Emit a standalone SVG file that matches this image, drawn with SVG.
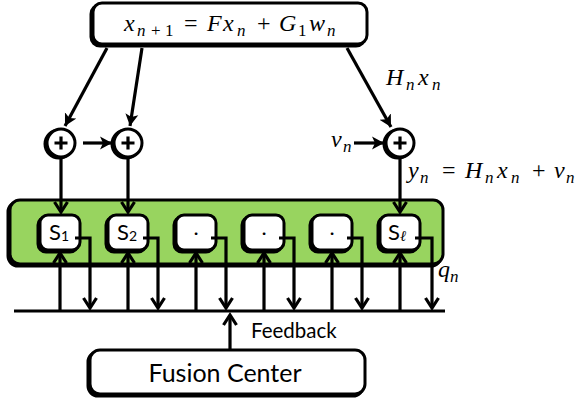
<svg xmlns="http://www.w3.org/2000/svg" width="578" height="401" viewBox="0 0 578 401">
<defs>
<style>
.sh{fill:#000;stroke:#000;stroke-width:3}
.box{fill:#fff;stroke:#000;stroke-width:3}
.grn{fill:#98d45f;stroke:#000;stroke-width:3}
.ln{fill:none;stroke:#000;stroke-width:3.2}
.m{font-family:"Liberation Serif","DejaVu Serif",serif;fill:#000;font-size:24px}
.i{font-style:italic}
.b{font-size:17px}
.s{font-family:Lato,"Open Sans",sans-serif;fill:#000}
</style>
<marker id="ah" markerUnits="userSpaceOnUse" markerWidth="14" markerHeight="14" viewBox="-12 -7 14 14" refX="0" refY="0" orient="auto">
<path d="M-12,-6.5 L0,0 L-12,6.5 L-9,0 z" fill="#000"/>
</marker>
<marker id="av" markerUnits="userSpaceOnUse" markerWidth="16" markerHeight="16" viewBox="-12 -8 14 16" refX="0" refY="0" orient="auto">
<path d="M-10,-6.5 L0,0 L-10,6.5" fill="none" stroke="#000" stroke-width="3.2"/>
</marker>
</defs>
<rect width="578" height="401" fill="#fff"/>

<g id="state">
<rect class="sh" x="91" y="5" width="274" height="41" rx="9"/>
<rect class="box" x="93" y="3" width="274" height="41" rx="9"/>
<text class="m" y="31"><tspan class="i" x="124">x</tspan><tspan class="i b" x="137" y="36">n</tspan><tspan class="b" x="151">+</tspan><tspan class="b" x="165">1</tspan><tspan x="184" y="31">=</tspan><tspan class="i" x="207">F</tspan><tspan class="i" x="223">x</tspan><tspan class="i b" x="237" y="36">n</tspan><tspan x="257" y="31">+</tspan><tspan class="i" x="279">G</tspan><tspan class="b" x="298" y="36">1</tspan><tspan class="i" x="309" y="31">w</tspan><tspan class="i b" x="327" y="36">n</tspan></text>
</g>

<g id="sum1">
<circle class="sh" cx="59" cy="144" r="14"/>
<circle class="box" cx="61" cy="143" r="14"/>
<path class="ln" d="M54.5,143 H67.5 M61,136.5 V149.5" stroke-width="2"/>
</g>
<g id="sum2">
<circle class="sh" cx="126" cy="144" r="14"/>
<circle class="box" cx="128" cy="143" r="14"/>
<path class="ln" d="M121.5,143 H134.5 M128,136.5 V149.5" stroke-width="2"/>
</g>
<g id="sum3">
<circle class="sh" cx="398" cy="144" r="14"/>
<circle class="box" cx="400" cy="143" r="14"/>
<path class="ln" d="M393.5,143 H406.5 M400,136.5 V149.5" stroke-width="2"/>
</g>

<g id="sensors">
<rect class="sh" x="8" y="202" width="433" height="64" rx="10"/>
<rect class="grn" x="10" y="200" width="433" height="64" rx="10"/>
</g>
<g id="s1"><rect class="sh" x="38" y="217" width="40" height="35" rx="8"/><rect class="box" x="40" y="215" width="40" height="35" rx="8"/><text class="s" x="49" y="240" font-size="22">S<tspan font-size="14" dy="1">1</tspan></text></g>
<g id="s2"><rect class="sh" x="106" y="217" width="40" height="35" rx="8"/><rect class="box" x="108" y="215" width="40" height="35" rx="8"/><text class="s" x="117" y="240" font-size="22">S<tspan font-size="14" dy="1">2</tspan></text></g>
<g id="s3"><rect class="sh" x="174" y="217" width="40" height="35" rx="8"/><rect class="box" x="176" y="215" width="40" height="35" rx="8"/><text class="s" x="196" y="239" font-size="18" text-anchor="middle">·</text></g>
<g id="s4"><rect class="sh" x="242" y="217" width="40" height="35" rx="8"/><rect class="box" x="244" y="215" width="40" height="35" rx="8"/><text class="s" x="264" y="239" font-size="18" text-anchor="middle">·</text></g>
<g id="s5"><rect class="sh" x="310" y="217" width="40" height="35" rx="8"/><rect class="box" x="312" y="215" width="40" height="35" rx="8"/><text class="s" x="332" y="239" font-size="18" text-anchor="middle">·</text></g>
<g id="s6"><rect class="sh" x="378" y="217" width="40" height="35" rx="8"/><rect class="box" x="380" y="215" width="40" height="35" rx="8"/><text class="s" x="388" y="240" font-size="22">S<tspan font-size="15" dy="1" font-style="italic" font-family="Liberation Serif,serif">ℓ</tspan></text></g>

<g id="fusion">
<rect class="sh" x="88" y="352" width="275" height="44" rx="10"/>
<rect class="box" x="90" y="350" width="275" height="44" rx="10"/>
<text class="s" x="225" y="382" font-size="25" text-anchor="middle">Fusion Center</text>
</g>

<g id="connectors">
<path class="ln" d="M107,48 L65,126" marker-end="url(#ah)"/>
<path class="ln" d="M142,48 L130,126" marker-end="url(#ah)"/>
<path class="ln" d="M347,48 L391,127" marker-end="url(#ah)"/>
<path class="ln" d="M83,143 H112" marker-end="url(#ah)"/>
<path class="ln" d="M354,143 H384" marker-end="url(#ah)"/>
<path class="ln" d="M61,158 V212" marker-end="url(#av)"/>
<path class="ln" d="M128,158 V212" marker-end="url(#av)"/>
<path class="ln" d="M400,158 V212" marker-end="url(#av)"/>
<path class="ln" d="M14,311 H445"/>
<g id="up">
<path class="ln" d="M60,311 V253" marker-end="url(#av)"/>
<path class="ln" d="M128,311 V253" marker-end="url(#av)"/>
<path class="ln" d="M196,311 V253" marker-end="url(#av)"/>
<path class="ln" d="M264,311 V253" marker-end="url(#av)"/>
<path class="ln" d="M332,311 V253" marker-end="url(#av)"/>
<path class="ln" d="M400,311 V253" marker-end="url(#av)"/>
</g>
<g id="down">
<path class="ln" d="M75,238 H90 V308" marker-end="url(#av)"/>
<path class="ln" d="M143,238 H158 V308" marker-end="url(#av)"/>
<path class="ln" d="M211,238 H226 V308" marker-end="url(#av)"/>
<path class="ln" d="M279,238 H294 V308" marker-end="url(#av)"/>
<path class="ln" d="M347,238 H362 V308" marker-end="url(#av)"/>
<path class="ln" d="M415,238 H432 V308" marker-end="url(#av)"/>
</g>
<path class="ln" d="M230,350 V315" marker-end="url(#av)"/>
</g>

<text class="m" y="85"><tspan class="i" x="386">H</tspan><tspan class="i b" x="406" y="90">n</tspan><tspan class="i" x="418" y="85">x</tspan><tspan class="i b" x="432" y="90">n</tspan></text>
<text class="m" y="147"><tspan class="i" x="331">v</tspan><tspan class="i b" x="343" y="152">n</tspan></text>
<text class="m" y="178"><tspan class="i" x="408">y</tspan><tspan class="i b" x="420" y="183">n</tspan><tspan x="442" y="178">=</tspan><tspan class="i" x="465">H</tspan><tspan class="i b" x="485" y="183">n</tspan><tspan class="i" x="497" y="178">x</tspan><tspan class="i b" x="511" y="183">n</tspan><tspan x="532" y="178">+</tspan><tspan class="i" x="554">v</tspan><tspan class="i b" x="566" y="183">n</tspan></text>
<text class="m" y="277"><tspan class="i" x="438">q</tspan><tspan class="i b" x="450" y="282">n</tspan></text>
<text class="s" x="251" y="338" font-size="20.5">Feedback</text>
</svg>
